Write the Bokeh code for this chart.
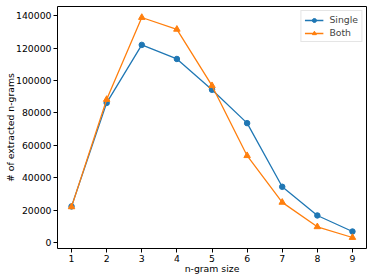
from bokeh.plotting import figure
from bokeh.embed import file_html
from bokeh.resources import INLINE
from bokeh.models import FixedTicker, NumeralTickFormatter, Range1d

ngram_sizes = [1, 2, 3, 4, 5, 6, 7, 8, 9]
single_counts = [22300, 86200, 122000, 113300, 94300, 73700, 34400, 16700, 6800]
both_counts = [22000, 88300, 138900, 131600, 96800, 53600, 24800, 9700, 3100]
x_ticks = [1, 2, 3, 4, 5, 6, 7, 8, 9]
y_ticks = [0, 20000, 40000, 60000, 80000, 100000, 120000, 140000]

BLUE = "#1f77b4"
ORANGE = "#ff7f0e"
FONT = "DejaVu Sans"
FS = "9.3px"

p = figure(width=374, height=280, output_backend="svg", toolbar_location=None, tools="",
           x_range=Range1d(0.6, 9.4), y_range=Range1d(-3690, 145690),
           min_border_left=57, min_border_right=8, min_border_top=6, min_border_bottom=32)

p.line(ngram_sizes, single_counts, color=BLUE, line_width=1.3, legend_label="Single")
p.scatter(ngram_sizes, single_counts, marker="circle", size=5.5, color=BLUE, legend_label="Single")
p.line(ngram_sizes, both_counts, color=ORANGE, line_width=1.3, legend_label="Both")
p.scatter(ngram_sizes, both_counts, marker="triangle", size=6.5, color=ORANGE, legend_label="Both")

p.xgrid.visible = False
p.ygrid.visible = False
p.outline_line_color = "black"
p.outline_line_width = 1

for ax in (p.xaxis[0], p.yaxis[0]):
    ax.major_label_text_font = FONT
    ax.major_label_text_font_size = FS
    ax.major_label_text_color = "black"
    ax.axis_label_text_font = FONT
    ax.axis_label_text_font_size = FS
    ax.axis_label_text_font_style = "normal"
    ax.axis_label_text_color = "black"
    ax.minor_tick_line_color = None
    ax.major_tick_out = 4
    ax.major_tick_in = 0
    ax.major_label_standoff = 2
    ax.axis_line_color = None
    ax.major_tick_line_color = "black"

p.xaxis[0].axis_label_standoff = -2
p.yaxis[0].axis_label_standoff = -3

p.xaxis[0].ticker = FixedTicker(ticks=x_ticks)
p.yaxis[0].ticker = FixedTicker(ticks=y_ticks)
p.yaxis[0].formatter = NumeralTickFormatter(format="0")
p.xaxis[0].axis_label = "n-gram size"
p.yaxis[0].axis_label = "# of extracted n-grams"

lg = p.legend[0]
lg.location = "top_right"
lg.label_text_font = FONT
lg.label_text_font_size = FS
lg.border_line_color = "#cccccc"
lg.background_fill_alpha = 0.8
lg.glyph_width = 19
lg.glyph_height = 10
lg.label_standoff = 6
lg.spacing = 2
lg.padding = 3
lg.margin = 4
lg.label_height = 10

open("out.html", "w").write(file_html(p, INLINE))
